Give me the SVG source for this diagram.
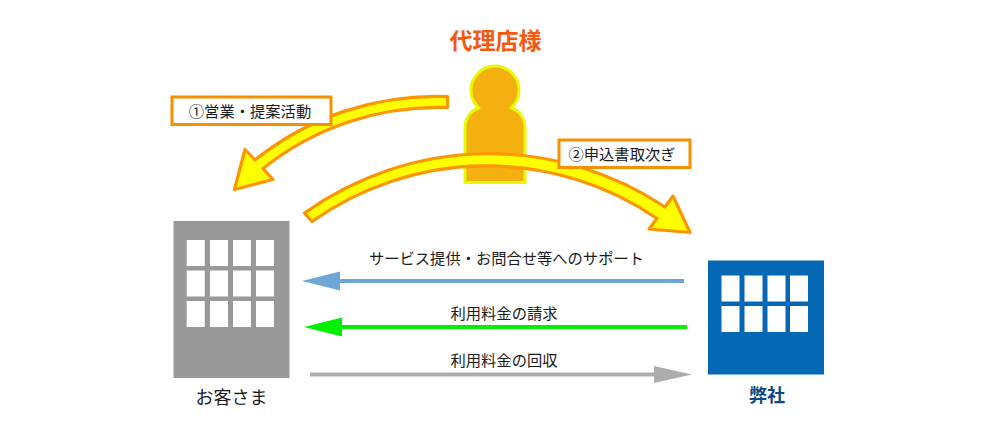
<svg xmlns="http://www.w3.org/2000/svg" width="1000" height="428" viewBox="0 0 1000 428">
<style>
text{font-family:"Noto Sans CJK JP","Noto Sans",sans-serif;fill:#1a1a1a;text-anchor:middle}
.t{font-size:15.300px}
.w{fill:#fff}
.y{fill:#ffff00;stroke:#fb9500;stroke-width:3.200;stroke-linejoin:round}
.b{fill:#fff;stroke:#f79000;stroke-width:3}
</style>
<rect width="1000" height="428" fill="#fff"/>
<g id="agent">
<text x="495.500" y="49" font-size="23" font-weight="700" style="fill:#f4590f">代理店様</text>
<path d="M479,108 A24,24 0 1 1 511,108 C519,110 525,118 525,128 L525,182.500 L465,182.500 L465,128 C465,118 471,110 479,108 Z" fill="#f3b00f" stroke="#e6fb00" stroke-width="3" stroke-linejoin="round"/>
</g>
<g id="customer">
<rect x="173.500" y="221" width="116" height="157" fill="#999"/>
<g class="w">
<rect x="186.700" y="240" width="18" height="26"/><rect x="210" y="240" width="18" height="26"/><rect x="233" y="240" width="18" height="26"/><rect x="256" y="240" width="18" height="26"/>
<rect x="186.700" y="270.500" width="18" height="26"/><rect x="210" y="270.500" width="18" height="26"/><rect x="233" y="270.500" width="18" height="26"/><rect x="256" y="270.500" width="18" height="26"/>
<rect x="186.700" y="301" width="18" height="26"/><rect x="210" y="301" width="18" height="26"/><rect x="233" y="301" width="18" height="26"/><rect x="256" y="301" width="18" height="26"/>
</g>
<text x="231.500" y="404" font-size="18">お客さま</text>
</g>
<g id="company">
<rect x="708" y="260.500" width="116" height="114" fill="#0468b4"/>
<g class="w">
<rect x="721.500" y="275.500" width="18" height="26"/><rect x="744.500" y="275.500" width="18" height="26"/><rect x="767.500" y="275.500" width="18" height="26"/><rect x="790" y="275.500" width="18" height="26"/>
<rect x="721.500" y="306" width="18" height="26"/><rect x="744.500" y="306" width="18" height="26"/><rect x="767.500" y="306" width="18" height="26"/><rect x="790" y="306" width="18" height="26"/>
</g>
<text x="767" y="402" font-size="18" font-weight="700" style="fill:#0d4a85">弊社</text>
</g>
<g id="connectors">
<path class="y" d="M447.500,96.500 A290,290 0 0 0 255,160 L245,149.500 L234.500,189.500 L273,179.500 L263,168.500 A280,280 0 0 1 447.500,107.500 Z"/>
<path class="y" d="M304.500,213 A317,317 0 0 1 665,207 L673,196 L690,232.500 L649,229 L657,218.500 A302,302 0 0 0 312,221.500 Z"/>
<path d="M684,279 L340,279 L340,271.500 L302,281 L340,290.500 L340,283 L684,283 Z" fill="#6ea6d6"/>
<path d="M687,325 L342,325 L342,317.500 L304,327 L342,336.500 L342,329 L687,329 Z" fill="#00f000"/>
<path d="M310,372.500 L654,372.500 L654,366 L692,374.500 L654,383 L654,376.500 L310,376.500 Z" fill="#adadad"/>
</g>
<g id="label1"><rect class="b" x="172" y="97" width="159" height="27.500"/><text class="t" x="250" y="116.500">①営業・提案活動</text></g>
<g id="label2"><rect class="b" x="559" y="140" width="131" height="27.500"/><text class="t" x="622" y="159.500">②申込書取次ぎ</text></g>
<g id="flow-labels">
<text class="t" x="506.500" y="264" textLength="275">サービス提供・お問合せ等へのサポート</text>
<text class="t" x="504" y="319">利用料金の請求</text>
<text class="t" x="504" y="366">利用料金の回収</text>
</g>
</svg>
